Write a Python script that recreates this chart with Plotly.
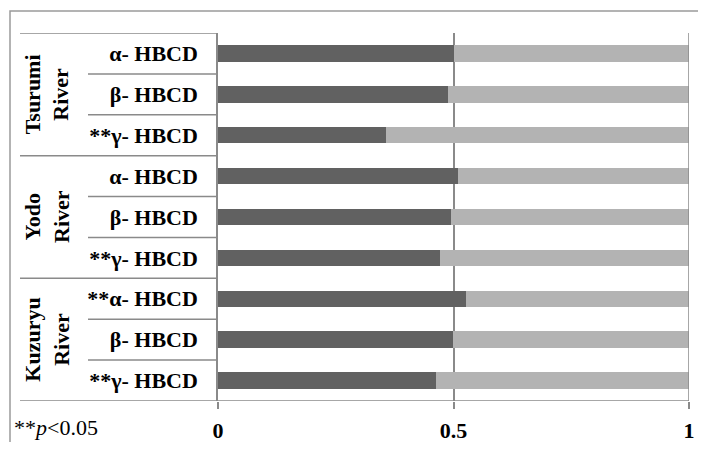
import plotly.graph_objects as go

# ---- data ----
groups = ["Tsurumi<br>River", "Yodo<br>River", "Kuzuryu<br>River"]
isomer_labels = ["α- HBCD", "β- HBCD", "**γ- HBCD",
                 "α- HBCD", "β- HBCD", "**γ- HBCD",
                 "**α- HBCD", "β- HBCD", "**γ- HBCD"]
dark_share = [0.500, 0.488, 0.357, 0.510, 0.495, 0.471, 0.527, 0.499, 0.463]
light_share = [0.500, 0.512, 0.643, 0.490, 0.505, 0.529, 0.473, 0.501, 0.537]
x_ticks = [0, 0.5, 1]
x_ticktext = ["0", "0.5", "1"]
note_text = "**<i>p</i>&lt;0.05"

# ---- style ----
FONT = "Liberation Serif"
FS = 22
DARK = "#616161"
LIGHT = "#b3b3b3"
LINE = "#8a8a8a"
OFF = 8  # default page body margin
W, H = 706 - 2 * OFF, 450 - 2 * OFF
ML, MT = 218 - OFF, 33 - OFF
MR = W - (689 - OFF)
MB = H - (401 - OFF)
PW = W - ML - MR
PH = H - MT - MB


def px_to_paper_x(px):
    # px given in full-window coordinates
    return (px - OFF - ML) / PW


def px_to_paper_y(py):
    return (H - MB - (py - OFF)) / PH


ypos = list(range(len(isomer_labels)))

fig = go.Figure()
fig.add_trace(go.Bar(y=ypos, x=dark_share, orientation="h",
                     marker=dict(color=DARK, line=dict(width=0)), width=0.4,
                     showlegend=False, hoverinfo="skip"))
fig.add_trace(go.Bar(y=ypos, x=light_share, orientation="h",
                     marker=dict(color=LIGHT, line=dict(width=0)), width=0.4,
                     showlegend=False, hoverinfo="skip"))

shapes = []
n = len(isomer_labels)
per_group = n // len(groups)
for g in range(len(groups) + 1):
    yb = g * per_group - 0.5
    x1 = 1 if g == len(groups) else 0
    shapes.append(dict(type="line", xref="paper", yref="y",
                       x0=px_to_paper_x(20), x1=x1, y0=yb, y1=yb,
                       line=dict(color=LINE, width=1.5)))
for i in range(n - 1):
    if (i + 1) % per_group == 0:
        continue
    yb = i + 0.5
    shapes.append(dict(type="line", xref="paper", yref="y",
                       x0=px_to_paper_x(88), x1=0, y0=yb, y1=yb,
                       line=dict(color=LINE, width=1.5)))
shapes.append(dict(type="rect", xref="paper", yref="paper",
                   x0=px_to_paper_x(10), x1=px_to_paper_x(720),
                   y0=px_to_paper_y(470), y1=px_to_paper_y(11),
                   line=dict(color="#9a9a9a", width=1.5)))
shapes.append(dict(type="line", xref="x", yref="paper", x0=1, x1=1, y0=0, y1=1,
                   line=dict(color=LINE, width=1.5)))

annotations = []
for g, name in enumerate(groups):
    annotations.append(dict(text="<b>" + name + "</b>", xref="paper", yref="y",
                            x=px_to_paper_x(47), y=g * per_group + (per_group - 1) / 2,
                            textangle=-90, showarrow=False,
                            font=dict(family=FONT, size=FS, color="black"),
                            xanchor="center", yanchor="middle"))
annotations.append(dict(text=note_text, xref="paper", yref="paper",
                        x=px_to_paper_x(12), y=px_to_paper_y(427),
                        xanchor="left", yanchor="middle", showarrow=False,
                        font=dict(family=FONT, size=FS, color="black")))

fig.update_layout(
    width=W, height=H,
    margin=dict(l=ML, r=MR, t=MT, b=MB, pad=0, autoexpand=False),
    barmode="stack",
    paper_bgcolor="white", plot_bgcolor="white",
    shapes=shapes, annotations=annotations,
    xaxis=dict(range=[0, 1], tickvals=x_ticks, ticktext=x_ticktext,
               showgrid=True, gridcolor=LINE, gridwidth=1.5,
               zeroline=False, showline=False, automargin=False,
               ticks="outside", ticklen=7, tickcolor=LINE, tickwidth=1.5,
               ticklabelstandoff=3,
               tickfont=dict(family=FONT, size=FS, color="black", weight="bold")),
    yaxis=dict(tickvals=ypos, ticktext=isomer_labels,
               range=[n - 0.5, -0.5], automargin=False,
               showgrid=False, zeroline=False,
               showline=True, linecolor=LINE, linewidth=1.5,
               ticks="", ticklabelstandoff=14,
               tickfont=dict(family=FONT, size=FS, color="black", weight="bold")),
)

fig.write_html("out.html")
